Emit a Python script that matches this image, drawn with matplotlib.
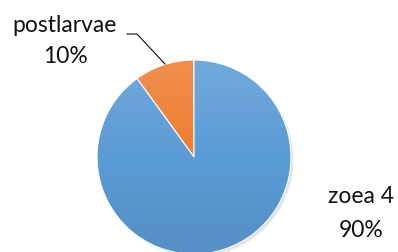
import numpy as np
import matplotlib
matplotlib.use("Agg")
import matplotlib.pyplot as plt
from matplotlib.patches import Circle

# stages and their share
stages = ["postlarvae", "zoea 4"]
shares = [10, 90]
colors = ["#ED7D31", "#5B9BD5"]

plt.rcParams['font.family'] = ['Lato', 'DejaVu Sans']

W, H = 398, 252
fig = plt.figure(figsize=(W / 100, H / 100), dpi=100)
ax = fig.add_axes([0, 0, 1, 1])

# pixel coords measured from the top, flipped for the axes
cx, cy, r = 194, H - 157, 97

# soft shadow
for i in range(3):
    ax.add_patch(Circle((cx + 1 + i, cy - 1 - i), r, color="black", alpha=0.05, lw=0, zorder=0))

wedges, _ = ax.pie(shares, colors=colors, startangle=90, counterclock=True,
                   center=(cx, cy), radius=r,
                   wedgeprops=dict(edgecolor="white", linewidth=0.8))
for w in wedges:
    w.set_zorder(1)

# light vertical gradient over the pie (lighter at the top)
t = np.linspace(0, 1, 100)[:, None] * np.ones((1, 2))
grad = np.zeros((100, 2, 4))
grad[..., :3] = np.where(t < 0.5, 1.0, 0.0)[..., None]
grad[..., 3] = np.where(t < 0.5, 0.14 * (1 - 2 * t), 0.08 * (2 * t - 1))
im = ax.imshow(grad, extent=(cx - r, cx + r, cy - r, cy + r), origin="upper",
               zorder=2, aspect="auto")
im.set_clip_path(Circle((cx, cy), r, transform=ax.transData))

ax.set_xlim(0, W)
ax.set_ylim(0, H)
ax.set_aspect("equal")
ax.axis("off")

# labels
pct = [f"{s}%" for s in shares]
txt = dict(ha="center", va="baseline", fontsize=16.5, color="#111111")
ax.text(65, H - 32, stages[0], **txt)
ax.text(65, H - 63, pct[0], **txt)
ax.text(361.5, H - 203, stages[1], **txt)
ax.text(361.5, H - 237, pct[1], **txt)

# leader line for the small slice
ax.plot([127, 137, 165], [H - 34, H - 34, H - 64], color="#111111", lw=0.8, zorder=3)

fig.savefig("out.png", dpi=100)
